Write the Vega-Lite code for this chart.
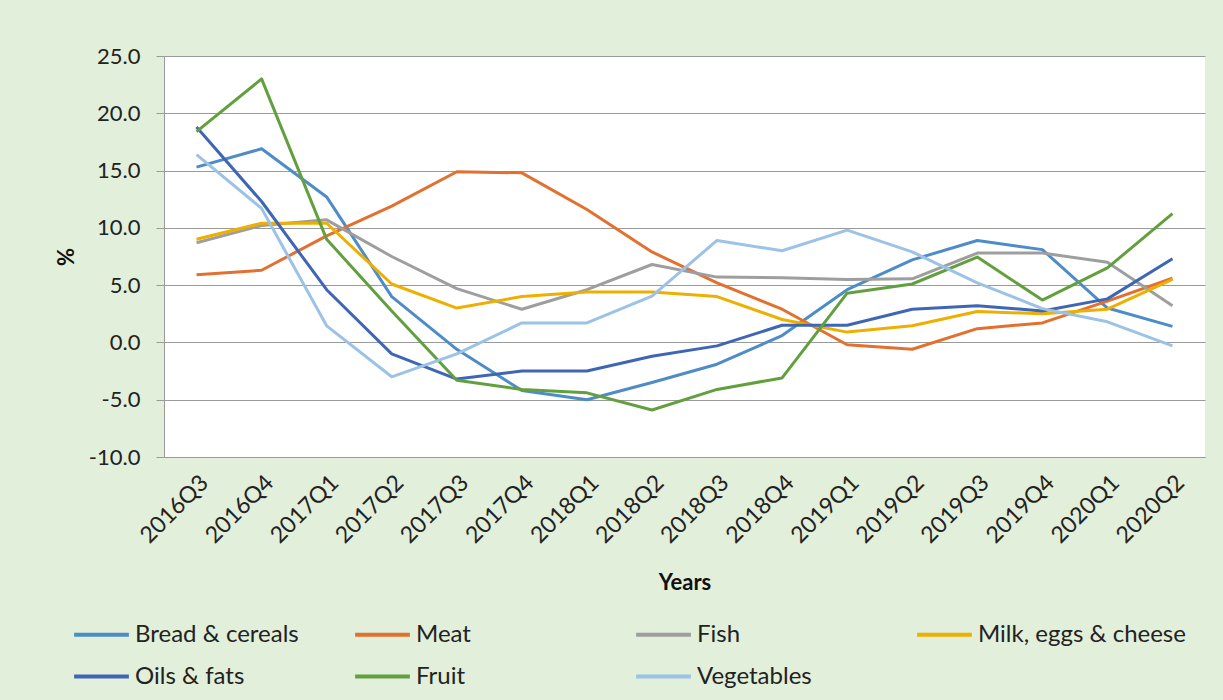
{
  "$schema": "https://vega.github.io/schema/vega-lite/v6.json",
  "autosize": {"type": "none"},
  "width": 1041,
  "height": 401,
  "padding": {"left": 164, "top": 56, "right": 18, "bottom": 243},
  "background": "#E2EFDA",
  "config": {
    "font": "Lato",
    "view": {"fill": "white", "stroke": null}
  },
  "data": {"values": [
    {"q":"2016Q3","s":"Bread & cereals","v":15.3},{"q":"2016Q4","s":"Bread & cereals","v":16.9},{"q":"2017Q1","s":"Bread & cereals","v":12.7},{"q":"2017Q2","s":"Bread & cereals","v":4.0},{"q":"2017Q3","s":"Bread & cereals","v":-0.6},{"q":"2017Q4","s":"Bread & cereals","v":-4.2},{"q":"2018Q1","s":"Bread & cereals","v":-5.0},{"q":"2018Q2","s":"Bread & cereals","v":-3.5},{"q":"2018Q3","s":"Bread & cereals","v":-1.9},{"q":"2018Q4","s":"Bread & cereals","v":0.6},{"q":"2019Q1","s":"Bread & cereals","v":4.6},{"q":"2019Q2","s":"Bread & cereals","v":7.2},{"q":"2019Q3","s":"Bread & cereals","v":8.9},{"q":"2019Q4","s":"Bread & cereals","v":8.1},{"q":"2020Q1","s":"Bread & cereals","v":3.0},{"q":"2020Q2","s":"Bread & cereals","v":1.4},
    {"q":"2016Q3","s":"Meat","v":5.9},{"q":"2016Q4","s":"Meat","v":6.3},{"q":"2017Q1","s":"Meat","v":9.3},{"q":"2017Q2","s":"Meat","v":11.9},{"q":"2017Q3","s":"Meat","v":14.9},{"q":"2017Q4","s":"Meat","v":14.8},{"q":"2018Q1","s":"Meat","v":11.6},{"q":"2018Q2","s":"Meat","v":7.9},{"q":"2018Q3","s":"Meat","v":5.2},{"q":"2018Q4","s":"Meat","v":2.9},{"q":"2019Q1","s":"Meat","v":-0.2},{"q":"2019Q2","s":"Meat","v":-0.6},{"q":"2019Q3","s":"Meat","v":1.2},{"q":"2019Q4","s":"Meat","v":1.7},{"q":"2020Q1","s":"Meat","v":3.6},{"q":"2020Q2","s":"Meat","v":5.6},
    {"q":"2016Q3","s":"Fish","v":8.7},{"q":"2016Q4","s":"Fish","v":10.2},{"q":"2017Q1","s":"Fish","v":10.7},{"q":"2017Q2","s":"Fish","v":7.5},{"q":"2017Q3","s":"Fish","v":4.7},{"q":"2017Q4","s":"Fish","v":2.9},{"q":"2018Q1","s":"Fish","v":4.6},{"q":"2018Q2","s":"Fish","v":6.8},{"q":"2018Q3","s":"Fish","v":5.7},{"q":"2018Q4","s":"Fish","v":5.65},{"q":"2019Q1","s":"Fish","v":5.5},{"q":"2019Q2","s":"Fish","v":5.55},{"q":"2019Q3","s":"Fish","v":7.8},{"q":"2019Q4","s":"Fish","v":7.8},{"q":"2020Q1","s":"Fish","v":7.0},{"q":"2020Q2","s":"Fish","v":3.2},
    {"q":"2016Q3","s":"Milk, eggs & cheese","v":9.0},{"q":"2016Q4","s":"Milk, eggs & cheese","v":10.4},{"q":"2017Q1","s":"Milk, eggs & cheese","v":10.4},{"q":"2017Q2","s":"Milk, eggs & cheese","v":5.1},{"q":"2017Q3","s":"Milk, eggs & cheese","v":3.0},{"q":"2017Q4","s":"Milk, eggs & cheese","v":4.0},{"q":"2018Q1","s":"Milk, eggs & cheese","v":4.4},{"q":"2018Q2","s":"Milk, eggs & cheese","v":4.4},{"q":"2018Q3","s":"Milk, eggs & cheese","v":4.0},{"q":"2018Q4","s":"Milk, eggs & cheese","v":2.0},{"q":"2019Q1","s":"Milk, eggs & cheese","v":0.9},{"q":"2019Q2","s":"Milk, eggs & cheese","v":1.45},{"q":"2019Q3","s":"Milk, eggs & cheese","v":2.7},{"q":"2019Q4","s":"Milk, eggs & cheese","v":2.5},{"q":"2020Q1","s":"Milk, eggs & cheese","v":2.9},{"q":"2020Q2","s":"Milk, eggs & cheese","v":5.5},
    {"q":"2016Q3","s":"Oils & fats","v":18.8},{"q":"2016Q4","s":"Oils & fats","v":12.3},{"q":"2017Q1","s":"Oils & fats","v":4.6},{"q":"2017Q2","s":"Oils & fats","v":-1.0},{"q":"2017Q3","s":"Oils & fats","v":-3.2},{"q":"2017Q4","s":"Oils & fats","v":-2.5},{"q":"2018Q1","s":"Oils & fats","v":-2.5},{"q":"2018Q2","s":"Oils & fats","v":-1.2},{"q":"2018Q3","s":"Oils & fats","v":-0.3},{"q":"2018Q4","s":"Oils & fats","v":1.5},{"q":"2019Q1","s":"Oils & fats","v":1.5},{"q":"2019Q2","s":"Oils & fats","v":2.9},{"q":"2019Q3","s":"Oils & fats","v":3.2},{"q":"2019Q4","s":"Oils & fats","v":2.75},{"q":"2020Q1","s":"Oils & fats","v":3.8},{"q":"2020Q2","s":"Oils & fats","v":7.3},
    {"q":"2016Q3","s":"Fruit","v":18.4},{"q":"2016Q4","s":"Fruit","v":23.0},{"q":"2017Q1","s":"Fruit","v":9.0},{"q":"2017Q2","s":"Fruit","v":2.75},{"q":"2017Q3","s":"Fruit","v":-3.3},{"q":"2017Q4","s":"Fruit","v":-4.1},{"q":"2018Q1","s":"Fruit","v":-4.4},{"q":"2018Q2","s":"Fruit","v":-5.9},{"q":"2018Q3","s":"Fruit","v":-4.1},{"q":"2018Q4","s":"Fruit","v":-3.1},{"q":"2019Q1","s":"Fruit","v":4.3},{"q":"2019Q2","s":"Fruit","v":5.1},{"q":"2019Q3","s":"Fruit","v":7.45},{"q":"2019Q4","s":"Fruit","v":3.7},{"q":"2020Q1","s":"Fruit","v":6.5},{"q":"2020Q2","s":"Fruit","v":11.25},
    {"q":"2016Q3","s":"Vegetables","v":16.4},{"q":"2016Q4","s":"Vegetables","v":11.7},{"q":"2017Q1","s":"Vegetables","v":1.45},{"q":"2017Q2","s":"Vegetables","v":-3.0},{"q":"2017Q3","s":"Vegetables","v":-1.0},{"q":"2017Q4","s":"Vegetables","v":1.7},{"q":"2018Q1","s":"Vegetables","v":1.7},{"q":"2018Q2","s":"Vegetables","v":4.05},{"q":"2018Q3","s":"Vegetables","v":8.9},{"q":"2018Q4","s":"Vegetables","v":8.0},{"q":"2019Q1","s":"Vegetables","v":9.8},{"q":"2019Q2","s":"Vegetables","v":7.9},{"q":"2019Q3","s":"Vegetables","v":5.2},{"q":"2019Q4","s":"Vegetables","v":2.95},{"q":"2020Q1","s":"Vegetables","v":1.8},{"q":"2020Q2","s":"Vegetables","v":-0.3}
  ]},
  "mark": {"type": "line", "strokeWidth": 3, "strokeJoin": "round"},
  "encoding": {
    "x": {
      "field": "q", "type": "ordinal", "title": "Years",
      "scale": {"paddingOuter": 0.5},
      "axis": {
        "labelAngle": -45, "labelFontSize": 23, "labelColor": "#222222",
        "labelPadding": 14, "ticks": false, "grid": false,
        "domainColor": "#9a9a9a", "domainWidth": 1,
        "titleFontSize": 22, "titleFontWeight": "bold", "titleColor": "#111111",
        "titlePadding": 25
      }
    },
    "y": {
      "field": "v", "type": "quantitative", "title": "%",
      "scale": {"domain": [-10, 25], "nice": false, "zero": false},
      "axis": {
        "values": [-10, -5, 0, 5, 10, 15, 20, 25],
        "labelExpr": "replace(format(datum.value, '.1f'), '\u2212', '-')",
        "labelFontSize": 22, "labelColor": "#222222", "labelPadding": 16,
        "tickSize": 8, "tickColor": "#9a9a9a", "domainColor": "#9a9a9a",
        "gridColor": "#9a9a9a", "gridWidth": 1,
        "titleFontSize": 22, "titleFontWeight": "bold", "titleColor": "#111111",
        "titlePadding": 10
      }
    },
    "color": {
      "field": "s", "type": "nominal",
      "scale": {
        "domain": ["Bread & cereals", "Meat", "Fish", "Milk, eggs & cheese", "Oils & fats", "Fruit", "Vegetables"],
        "range": ["#4E8CC8", "#E2702F", "#9E9E9E", "#EDB000", "#3F66B5", "#62A03F", "#9CC2E5"]
      },
      "legend": {
        "title": null, "orient": "none", "legendX": -92, "legendY": 549,
        "direction": "horizontal", "columns": 4, "gridAlign": "all",
        "symbolType": "stroke", "symbolSize": 3000, "symbolStrokeWidth": 4,
        "labelFontSize": 24, "labelColor": "#222222", "labelOffset": 4,
        "columnPadding": 4, "rowPadding": -26, "labelLimit": 400
      }
    }
  }
}
